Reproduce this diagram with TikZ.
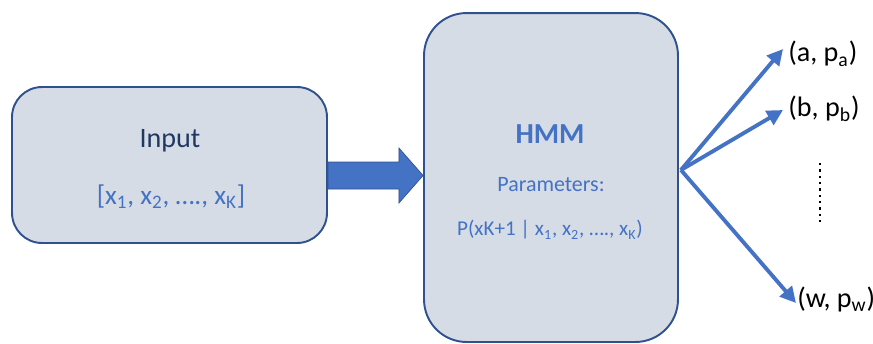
\documentclass[tikz,border=0pt]{standalone}
\usepackage{fontspec}
\setmainfont{Carlito}
\usetikzlibrary{positioning,calc,arrows.meta}
\definecolor{boxfill}{HTML}{D6DCE5}
\definecolor{boxline}{HTML}{2F528F}
\definecolor{blau}{HTML}{4472C4}
\definecolor{navy}{HTML}{1F3864}

\begin{document}
\begin{tikzpicture}[x=0.02cm,y=-0.02cm,
    box/.style={draw=boxline, fill=boxfill, line width=1.1pt, inner sep=0pt},
    fan/.style={draw=blau, line width=2.2pt, -{Triangle[length=9pt,width=9pt]}},
    lbl/.style={anchor=west, inner sep=0pt, font=\fontsize{16}{19}\selectfont}]
    \useasboundingbox (0,0) rectangle (873,343);
    % boxes
    \node[box, rounded corners=0.6cm, minimum width=6.3cm, minimum height=3.12cm] (input) at (169.5,165) {};
    \node[box, rounded corners=0.85cm, minimum width=5.08cm, minimum height=6.58cm] (hmm) at (551,177.5) {};
    \node[text=navy, font=\fontsize{16}{19}\selectfont] (inputtitle) at (170,141) {Input};
    \node[text=blau, font=\fontsize{15.5}{18}\selectfont] (seq) at (171,197) {[x\textsubscript{1}, x\textsubscript{2}, …., x\textsubscript{K}]};
    \node[text=blau, font=\bfseries\fontsize{16.5}{19}\selectfont] (hmmtitle) at (550,134) {HMM};
    \node[text=blau, font=\fontsize{12.5}{15}\selectfont] (params) at (551,185) {Parameters:};
    \node[text=blau, font=\fontsize{12}{14}\selectfont] (prob) at (550,230) {P(xK+1 | x\textsubscript{1}, x\textsubscript{2}, …., x\textsubscript{K})};
    % block arrow
    \coordinate (tail) at ($(input.east)+(0,10.5)$);
    \coordinate (tip) at ($(hmm.west)+(0,-2)$);
    \filldraw[fill=blau, draw=boxline, line width=0.4pt] ($(tail)+(0,-13.5)$) -- ++(71,0) -- ++(0,-14) -- (tip)
        -- ($(tail)+(71,27.5)$) -- ++(0,-14) -- ($(tail)+(0,13.5)$) -- cycle;
    % outputs
    \coordinate (src) at ($(hmm.east)+(2,-7.5)$);
    \node[lbl] (a) at (788,54) {(a, p\textsubscript{a})};
    \node[lbl] (b) at (788,109) {(b, p\textsubscript{b})};
    \node[lbl] (w) at (797,299) {(w, p\textsubscript{w})};
    \draw[fan] (src) -- ($(a.west)+(-5,-5)$);
    \draw[fan] (src) -- ($(b.west)+(-5,1)$);
    \draw[fan] (src) -- ($(w.west)+(-1,4)$);
    \coordinate (dtop) at (820,163);
    \coordinate (dbot) at (820,223);
    \draw[line width=1.4pt, dash pattern=on 1.4pt off 2.2pt] (dtop) -- (dbot);
\end{tikzpicture}
\end{document}
